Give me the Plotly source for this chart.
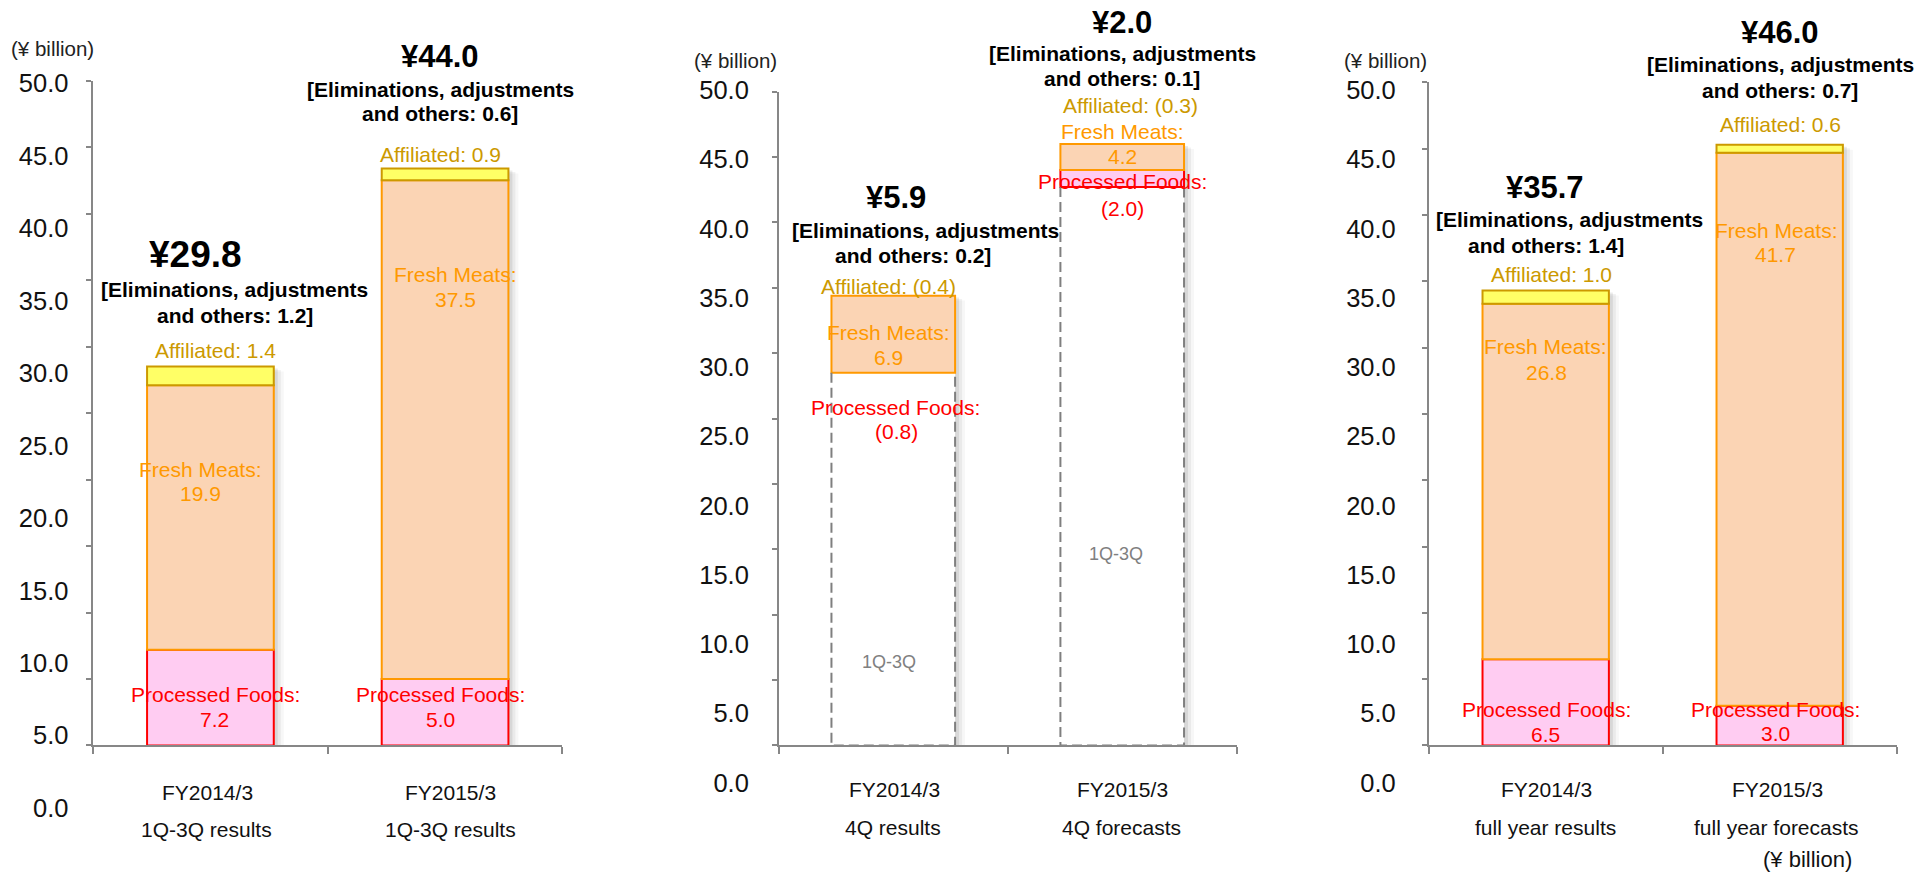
import plotly.graph_objects as go

W = 1917
H = 884               # figure height
A0, S = 12.2, 0.9705  # observed placement of the figure in the photographed page
FONT = "Liberation Sans, Arial, sans-serif"

# ---------------- data ----------------
periods = ["FY2014/3", "FY2015/3"]
panel_subtitles = [
    ["1Q-3Q results", "1Q-3Q results"],
    ["4Q results", "4Q forecasts"],
    ["full year results", "full year forecasts"],
]
y_ticks = [0, 5, 10, 15, 20, 25, 30, 35, 40, 45, 50]
unit_label = "(¥ billion)"

# 1Q-3Q
q13_processed = [7.2, 5.0]
q13_fresh = [19.9, 37.5]
q13_affiliated = [1.4, 0.9]
q13_elim = [1.2, 0.6]
q13_total = [29.8, 44.0]

# 4Q
q4_processed = [-0.8, -2.0]
q4_fresh = [6.9, 4.2]
q4_affiliated = [-0.4, -0.3]
q4_elim = [0.2, 0.1]
q4_total = [5.9, 2.0]
# 4Q boxes as drawn: 1Q-3Q base, processed box, fresh box
q4_base_drawn = [28.5, 42.7]
q4_processed_drawn = [None, 1.3]
q4_fresh_drawn = [5.9, 2.0]

# full year
fy_processed = [6.5, 3.0]
fy_fresh = [26.8, 41.7]
fy_affiliated = [1.0, 0.6]
fy_elim = [1.4, 0.7]
fy_total = [35.7, 46.0]

# ---------------- styles ----------------
C_PROC_FILL, C_PROC_LINE, C_PROC_TXT = "#FFCCF2", "#FF0000", "#FF0000"
C_FRESH_FILL, C_FRESH_LINE, C_FRESH_TXT = "#FBD4B4", "#FF9900", "#FF9900"
C_AFF_FILL, C_AFF_LINE, C_AFF_TXT = "#FFFF66", "#CC9900", "#CC9900"
C_AXIS = "#878787"
C_DASH = "#7F7F7F"
BW = 0.54

def fmt(v):
    return "(%.1f)" % abs(v) if v < 0 else "%.1f" % v

def py(v):
    """pixel row of the reference picture -> paper fraction of the figure"""
    return 1 - ((v - A0) / S) / H

panels = [
    dict(x0=93.1, x1=562.4, y0=745.3, y50=79.0, l0=808.0, l50=81.7, lr=66.5),
    dict(x0=778.8, x1=1236.7, y0=745.3, y50=90.0, l0=782.5, l50=88.7, lr=746.9),
    dict(x0=1428.7, x1=1896.7, y0=745.3, y50=80.7, l0=782.5, l50=88.7, lr=1393.8),
]

fig = go.Figure()
layout = dict(
    width=W, height=H, autosize=False, margin=dict(l=0, r=0, t=0, b=0),
    paper_bgcolor="white", plot_bgcolor="rgba(0,0,0,0)", showlegend=False,
    barmode="overlay", font=dict(family=FONT, color="black"),
)

xs = [0, 1]

for i, p in enumerate(panels):
    n = i + 1
    xa = "x" if n == 1 else f"x{n}"
    ya = "y" if n == 1 else f"y{n}"
    la = f"y{n + 3}"
    upp = (p["y0"] - p["y50"]) / 50.0
    layout[f"xaxis{'' if n == 1 else n}"] = dict(
        domain=[p["x0"] / W, p["x1"] / W], range=[-0.5, 1.5], anchor=ya,
        showline=True, linecolor=C_AXIS, linewidth=2, ticks="outside", ticklen=7,
        tickcolor=C_AXIS, tickwidth=1.5, tickvals=[-0.5, 0.5, 1.5],
        showticklabels=False, showgrid=False, zeroline=False, fixedrange=True,
    )
    layout[f"yaxis{'' if n == 1 else n}"] = dict(
        domain=[py(p["y0"]), py(p["y50"])], range=[0, 50], anchor=xa,
        showline=True, linecolor=C_AXIS, linewidth=1.5, ticks="outside", ticklen=5,
        tickcolor=C_AXIS, tickwidth=1.5, tickvals=y_ticks,
        showticklabels=False, showgrid=False, zeroline=False, fixedrange=True,
    )
    layout[f"yaxis{n + 3}"] = dict(
        domain=[py(p["l0"]), py(p["l50"])], range=[0, 50], anchor="free",
        position=(p["lr"] + 2) / W, side="left", tickvals=y_ticks, tickformat=".1f",
        ticks="", showline=False, showgrid=False, zeroline=False, fixedrange=True,
        tickfont=dict(size=25.5, color="#111111", family=FONT),
    )
    fig.add_trace(go.Scatter(x=[0], y=[0], xaxis=xa, yaxis=la, mode="markers",
                             marker=dict(opacity=0), hoverinfo="skip"))

    if i == 0 or i == 2:
        proc, fresh, aff = (q13_processed, q13_fresh, q13_affiliated) if i == 0 else (fy_processed, fy_fresh, fy_affiliated)
        tops = [a + b + c for a, b, c in zip(proc, fresh, aff)]
        segs = [
            (proc, [0, 0], C_PROC_FILL, C_PROC_LINE),
            (fresh, list(proc), C_FRESH_FILL, C_FRESH_LINE),
            (aff, [a + b for a, b in zip(proc, fresh)], C_AFF_FILL, C_AFF_LINE),
        ]
        dashed = None
    else:
        fresh_base = [q4_base_drawn[0], q4_base_drawn[1] + q4_processed_drawn[1]]
        tops = [fresh_base[k] + q4_fresh_drawn[k] for k in range(2)]
        segs = [
            (q4_processed_drawn, q4_base_drawn, C_PROC_FILL, C_PROC_LINE),
            (q4_fresh_drawn, fresh_base, C_FRESH_FILL, C_FRESH_LINE),
        ]
        dashed = q4_base_drawn

    # soft shadow to the right of each bar
    cat_px = (p["x1"] - p["x0"]) / 2.0
    for shift_px, alpha in [(10, 0.03), (7, 0.05), (4, 0.08)]:
        fig.add_trace(go.Bar(
            x=xs, y=[t - shift_px * 0.5 / upp for t in tops], base=[0, 0], width=BW,
            offset=-BW / 2 + shift_px / cat_px, xaxis=xa, yaxis=ya,
            marker=dict(color=f"rgba(0,0,0,{alpha})", line=dict(width=0)), hoverinfo="skip"))

    if dashed is not None:
        fig.add_trace(go.Bar(x=xs, y=dashed, base=[0, 0], width=BW, xaxis=xa, yaxis=ya,
                             marker=dict(color="white", line=dict(width=0)), hoverinfo="skip"))
        for k, v in enumerate(dashed):
            fig.add_trace(go.Scatter(
                x=[k - BW / 2, k - BW / 2, k + BW / 2, k + BW / 2], y=[v, 0, 0, v],
                xaxis=xa, yaxis=ya, mode="lines", cliponaxis=False,
                line=dict(color=C_DASH, width=2, dash="10px,5px"), hoverinfo="skip"))

    for h, b, fc, lc in segs:
        fig.add_trace(go.Bar(x=xs, y=h, base=b, width=BW, xaxis=xa, yaxis=ya,
                             marker=dict(color=fc, line=dict(color=lc, width=2)), hoverinfo="skip"))

fig.update_layout(**layout)

# ---------------- text ----------------
anns = []

def A(px, pyy, text, size, color="black", bold=False):
    anns.append(dict(x=px / W, y=py(pyy), xref="paper", yref="paper",
                     text=f"<b>{text}</b>" if bold else text, showarrow=False,
                     font=dict(size=size, color=color, family=FONT),
                     xanchor="center", yanchor="middle"))

SEG = 21
ELIM = 21
TOT_SIZES = [[37, 31], [31, 31], [31, 31]]

def elim_lines(v):
    return "[Eliminations, adjustments", "and others: %s]" % fmt(v)

# units
A(52.0, 46.7, unit_label, 20.5, "#222222")
A(735.3, 59, unit_label, 20.5, "#222222")
A(1385.1, 59, unit_label, 20.5, "#222222")
A(1807.1, 860, unit_label, 22, "#111111")

pos1 = [
    dict(tot=(195.3, 253), e1=(234.7, 288), e2=(235.1, 314), aff=(215.5, 349),
         fr=(200.4, 469), frv=(200.6, 493), pr=(215.3, 694), prv=(214.9, 719)),
    dict(tot=(439.8, 55), e1=(440.4, 87.7), e2=(440.0, 112), aff=(440.8, 153),
         fr=(455.1, 273), frv=(455.1, 298), pr=(440.8, 694), prv=(440.4, 719)),
]
pos2 = [
    dict(tot=(895.5, 195.8), e1=(925.3, 229), e2=(912.9, 254.7), aff=(888.4, 285.8),
         fr=(888.6, 331), frv=(888.0, 356.7), pr=(895.9, 406.7), prv=(896.1, 430.8), q=(888.6, 662)),
    dict(tot=(1121.6, 21.0), e1=(1122.7, 52), e2=(1122.3, 77.2), aff=(1130.0, 104.2),
         fr=(1122.2, 130), frv=(1122.2, 155), pr=(1122.2, 180), prv=(1122.7, 206.7), q=(1116.0, 553.3)),
]
pos3 = [
    dict(tot=(1545.1, 185.8), e1=(1569.9, 218.3), e2=(1545.7, 243.8), aff=(1551.3, 273.3),
         fr=(1545.6, 345.7), frv=(1546.1, 371.7), pr=(1546.1, 709), prv=(1545.7, 734.7)),
    dict(tot=(1779.7, 31.2), e1=(1780.3, 63.3), e2=(1780.1, 88.8), aff=(1780.7, 123),
         fr=(1776.7, 228.7), frv=(1775.6, 253.7), pr=(1775.6, 709), prv=(1775.6, 733.8)),
]

for pi, (pos, proc, fresh, aff, elim, tot) in enumerate([
    (pos1, q13_processed, q13_fresh, q13_affiliated, q13_elim, q13_total),
    (pos2, q4_processed, q4_fresh, q4_affiliated, q4_elim, q4_total),
    (pos3, fy_processed, fy_fresh, fy_affiliated, fy_elim, fy_total),
]):
    for k in range(2):
        ps = pos[k]
        A(*ps["tot"], "¥%.1f" % tot[k], TOT_SIZES[pi][k], bold=True)
        l1, l2 = elim_lines(elim[k])
        A(*ps["e1"], l1, ELIM, bold=True)
        A(*ps["e2"], l2, ELIM, bold=True)
        A(*ps["aff"], "Affiliated: %s" % fmt(aff[k]), SEG, C_AFF_TXT)
        A(*ps["fr"], "Fresh Meats:", SEG, C_FRESH_TXT)
        A(*ps["frv"], fmt(fresh[k]), SEG, C_FRESH_TXT)
        A(*ps["pr"], "Processed Foods:", SEG, C_PROC_TXT)
        A(*ps["prv"], fmt(proc[k]), SEG, C_PROC_TXT)
        if "q" in ps:
            A(*ps["q"], "1Q-3Q", 18, "#808080")

cat_pos = [
    [((207.1, 792.5), (206.7, 829.5)), ((450.8, 792.5), (450.6, 829.5))],
    [((894.1, 789.7), (893.3, 827.5)), ((1122.7, 789.7), (1121.8, 827.5))],
    [((1546.1, 789.7), (1545.7, 827.5)), ((1777.7, 789.7), (1776.9, 827.5))],
]
for i in range(3):
    for k in range(2):
        (a, b) = cat_pos[i][k]
        A(*a, periods[k], 21, "#111111")
        A(*b, panel_subtitles[i][k], 21, "#111111")

fig.update_layout(annotations=anns)
fig.write_html("out.html", config={"displayModeBar": False})
